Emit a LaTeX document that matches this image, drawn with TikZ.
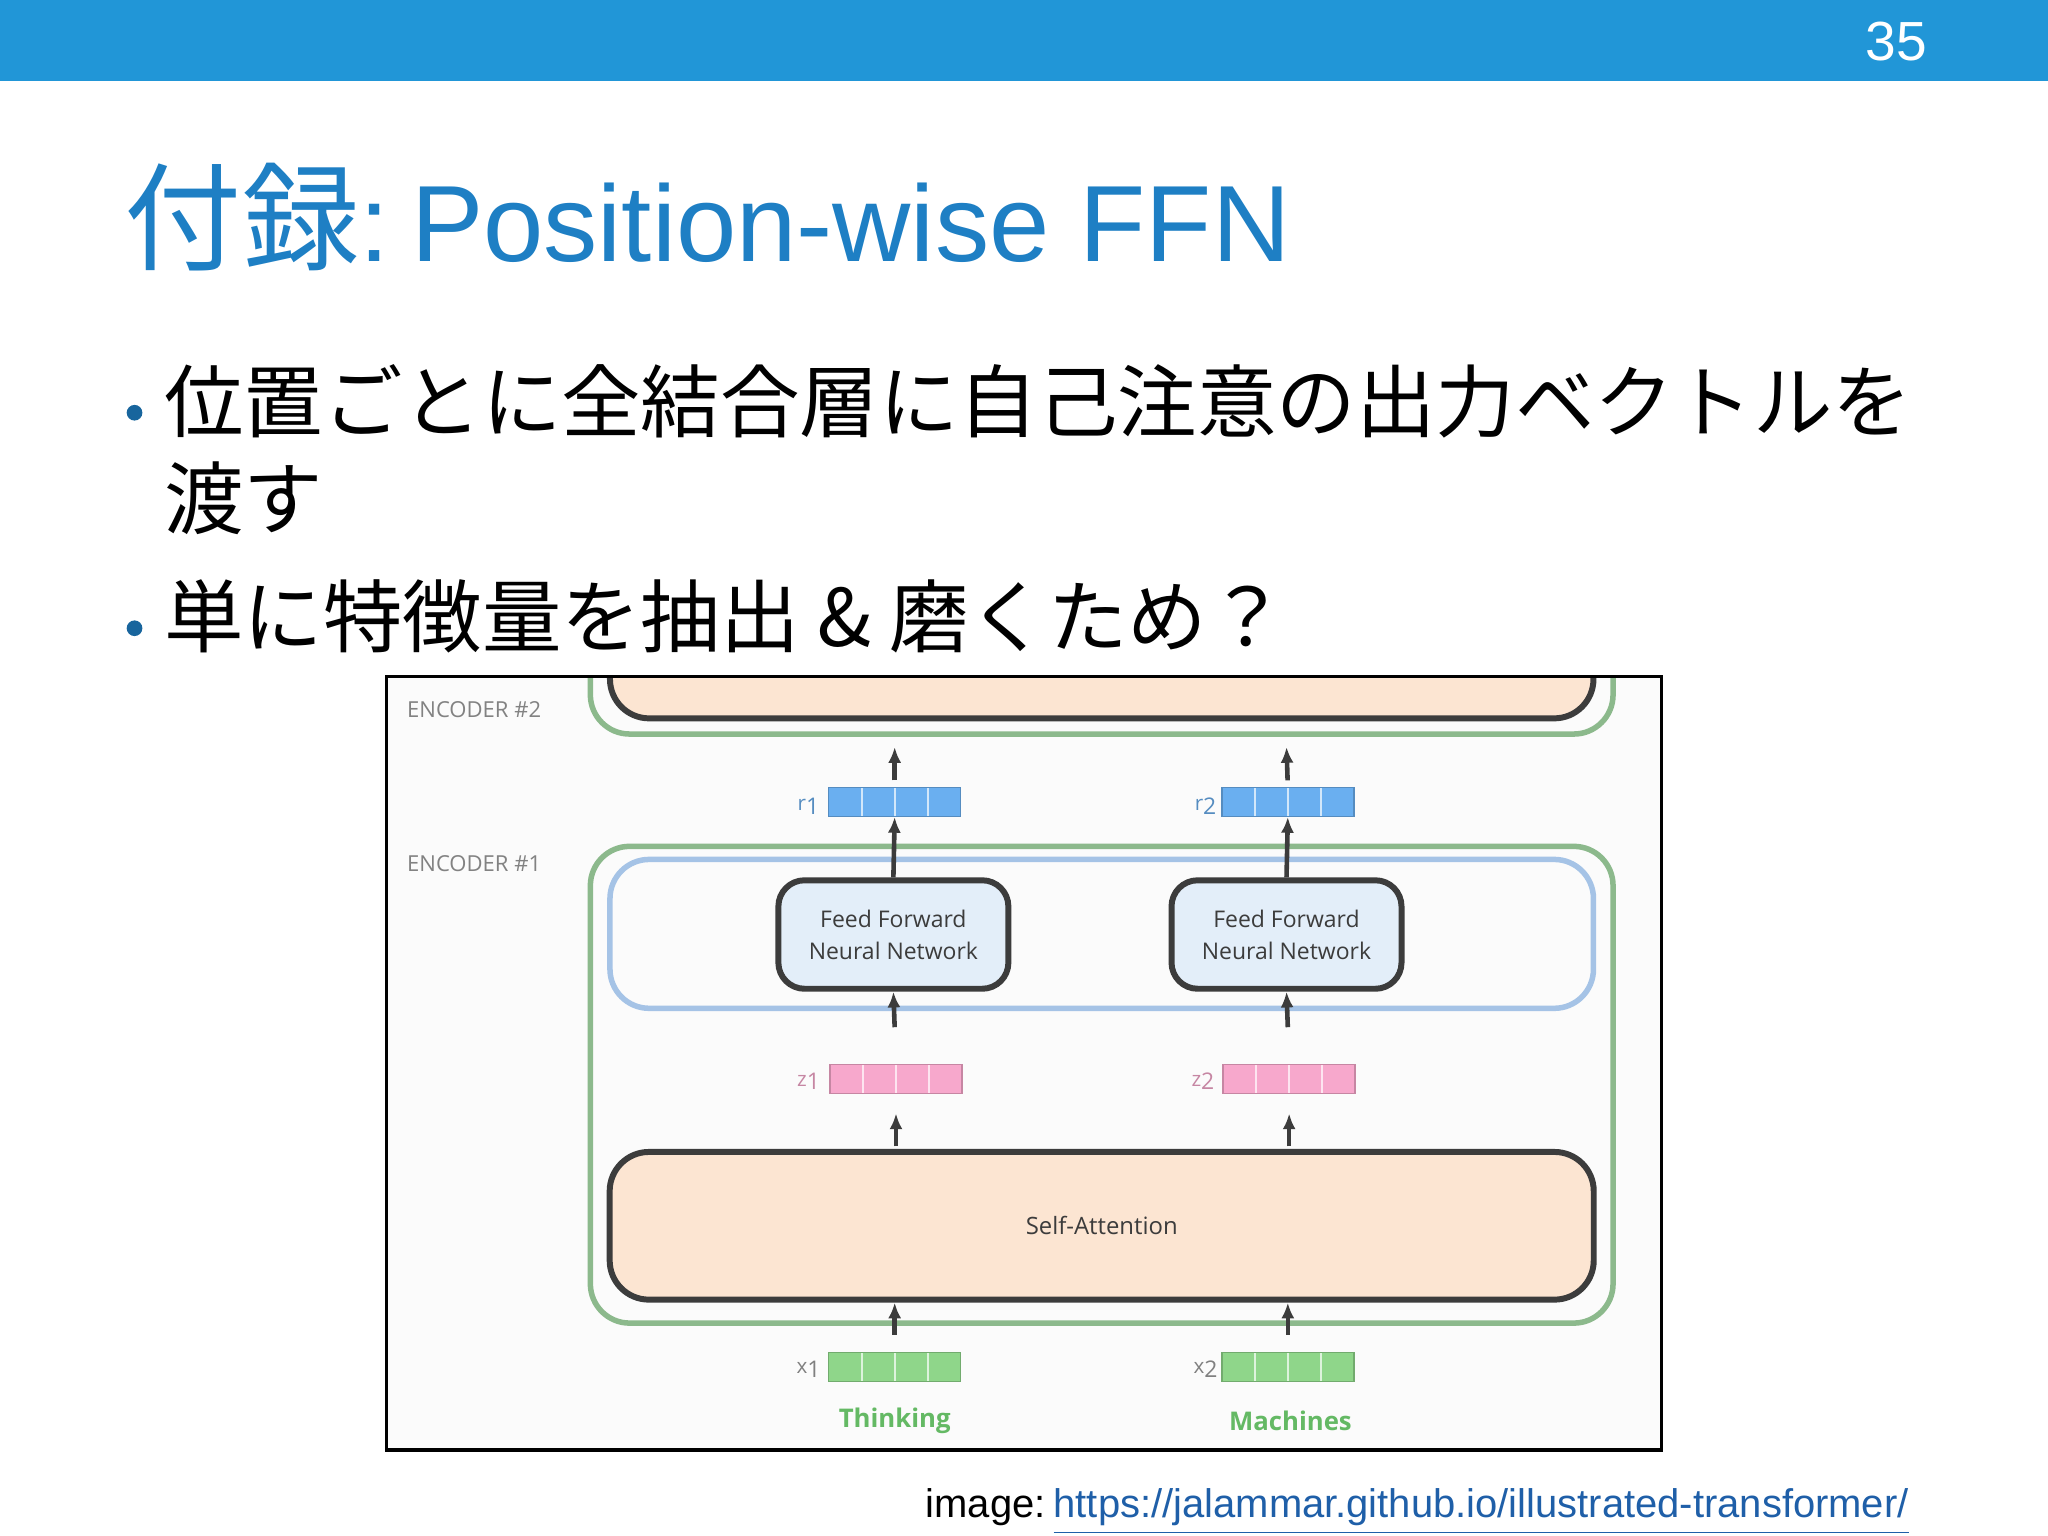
\documentclass[tikz,border=0pt]{standalone}
\usepackage{fontspec}
\setmainfont{Liberation Sans}
\newfontfamily\cjk{Noto Sans CJK JP}
\newfontfamily\osans{Open Sans}
\usetikzlibrary{arrows.meta}
\definecolor{bar}{RGB}{33,150,215}
\definecolor{ttl}{RGB}{30,127,196}
\definecolor{encg}{RGB}{140,185,140}
\definecolor{inb}{RGB}{165,195,230}
\definecolor{peach}{RGB}{252,229,210}
\definecolor{ffb}{RGB}{227,238,249}
\definecolor{dk}{RGB}{60,60,60}
\definecolor{rb}{RGB}{106,175,240}
\definecolor{zp}{RGB}{247,168,204}
\definecolor{xg}{RGB}{143,214,138}
\definecolor{lbl}{RGB}{130,130,130}
\definecolor{wg}{RGB}{100,185,100}
\definecolor{lnk}{RGB}{31,95,168}
\tikzset{
 x=0.01cm,y=-0.01cm,
 vec/.style={draw=#1!80!black,line width=0.3pt,fill=#1,minimum width=1.01cm,minimum height=0.22cm,inner sep=0pt,
   path picture={\foreach \i in {1,2,3}{\draw[white!70!#1,line width=0.4pt] ([xshift=\i*0.2525cm]path picture bounding box.south west) -- ([xshift=\i*0.2525cm]path picture bounding box.north west);}}},
 vlab/.style={font=\osans\fontsize{4.5}{4}\selectfont,text=#1,inner sep=0pt},
 arr/.style={-{Latex[length=0.12cm,width=0.1cm]},dk,line width=1pt},
 ff/.style={draw=dk,line width=1.3pt,fill=ffb,rounded corners=0.2cm,minimum width=1.76cm,minimum height=0.83cm,align=center,font=\osans\fontsize{5}{7}\selectfont,text=dk},
 enc/.style={font=\osans\fontsize{4.8}{5}\selectfont,text=lbl,anchor=west,inner sep=0pt},
}
\begin{document}
\begin{tikzpicture}
\useasboundingbox (0,0) rectangle (1568,1176);
\fill[bar] (0,0) rectangle (1568,62);
\node[text=white,font=\fontsize{12}{12}\selectfont] (pg) at (1452,32) {35};
\node[anchor=base west,text=ttl,inner sep=0pt,font=\fontsize{23.6}{25}\selectfont] (title) at (95,200) {{\cjk\fontsize{25.5}{25}\selectfont 付録}:\hspace{0.2em}Position-wise FFN};
\node[anchor=base west,inner sep=0pt,font=\cjk\fontsize{17.3}{17}\selectfont] (b1) at (125,330) {位置ごとに全結合層に自己注意の出力ベクトルを};
\node[anchor=base west,inner sep=0pt,font=\cjk\fontsize{17.3}{17}\selectfont] (b1b) at (125,405) {渡す};
\node[anchor=base west,inner sep=0pt,font=\cjk\fontsize{17.3}{17}\selectfont] (b2) at (125,495) {単に特徴量を抽出 \& 磨くため？};
\fill[ttl!80!black] (103,316) circle (6);
\fill[ttl!80!black] (103,481) circle (6);
% diagram
\begin{scope}
\clip (296,518) rectangle (1272,1110);
\fill[white!97!gray] (296,518) rectangle (1272,1110);
\draw[encg,line width=1.2pt,rounded corners=0.3cm] (452,450) rectangle (1235,562);
\draw[dk,line width=1.3pt,fill=peach,rounded corners=0.3cm] (467,440) rectangle (1220,550);
\end{scope}
\draw[black,line width=0.8pt] (296,518) rectangle (1272,1110);
\node[enc] (e2) at (311,543) {ENCODER \#2};
\node[enc] (e1) at (311,661) {ENCODER \#1};
\draw[encg,line width=1.2pt,rounded corners=0.3cm] (452,648) rectangle (1235,1013);
\draw[inb,line width=1.2pt,rounded corners=0.3cm] (467,658) rectangle (1220,772);
\node[draw=dk,line width=1.3pt,fill=peach,rounded corners=0.3cm,minimum width=7.53cm,minimum height=1.13cm,font=\osans\fontsize{5.2}{6}\selectfont,text=dk] (sa) at (843.5,938.5) {Self-Attention};
\node[ff] (ff1) at (684,715.5) {Feed Forward\\Neural Network};
\node[ff] (ff2) at (985,715.5) {Feed Forward\\Neural Network};
\node[vec=rb] (r1) at (685,614) {};
\node[vec=rb] (r2) at (986,614) {};
\node[vec=zp] (z1) at (686,826) {};
\node[vec=zp] (z2) at (987,826) {};
\node[vec=xg] (x1) at (685,1046.5) {};
\node[vec=xg] (x2) at (986,1046.5) {};
\node[vlab=rb!80!black] (lr1) at (619,617) {r\raisebox{-0.3ex}{\tiny 1}};
\node[vlab=rb!80!black] (lr2) at (923,617) {r\raisebox{-0.3ex}{\tiny 2}};
\node[vlab=zp!80!black] (lz1) at (619,828) {z\raisebox{-0.3ex}{\tiny 1}};
\node[vlab=zp!80!black] (lz2) at (921,828) {z\raisebox{-0.3ex}{\tiny 2}};
\node[vlab=gray] (lx1) at (619,1048) {x\raisebox{-0.3ex}{\tiny 1}};
\node[vlab=gray] (lx2) at (923,1048) {x\raisebox{-0.3ex}{\tiny 2}};
\node[font=\osans\bfseries\fontsize{5.6}{6}\selectfont,text=wg] (t1) at (685,1088) {Thinking};
\node[font=\osans\bfseries\fontsize{5.6}{6}\selectfont,text=wg] (t2) at (988,1088) {Machines};
\coordinate (top1) at (685,572);
\coordinate (top2) at (985,572);
\foreach \i/\tp in {1/top1,2/top2}{
 \draw[arr,shorten <=0.05cm] (r\i.north) -- (\tp);
 \draw[arr] (ff\i.north) -- (r\i.south);
 \draw[arr,shorten <=0.28cm] (z\i.north) -- (ff\i.south);
 \draw[arr,shorten <=0.02cm,shorten >=0.15cm] (z\i |- sa.north) -- (z\i.south);
 \draw[arr,shorten <=0.13cm] (x\i.north) -- (x\i |- sa.south);
}
\node[anchor=base west,inner sep=0pt,font=\fontsize{8.7}{10}\selectfont] (cap) at (708,1162) {image:\hspace{0.2em}\textcolor{lnk}{\underline{https://jalammar.github.io/illustrated-transformer/}}};
\end{tikzpicture}
\end{document}
